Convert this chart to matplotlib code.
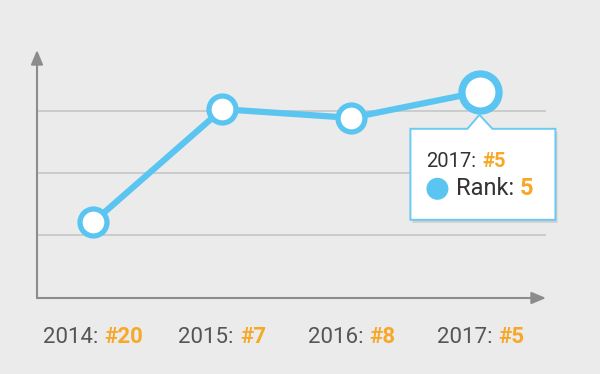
import matplotlib
matplotlib.use("Agg")
import matplotlib.pyplot as plt
from matplotlib.patches import Polygon, Circle
from matplotlib.offsetbox import TextArea, HPacker, AnnotationBbox

years = ["2014", "2015", "2016", "2017"]
ranks = [20, 7, 8, 5]
grid_ranks = [7.2, 14.35, 21.5]

BG = "#ebebeb"
BLUE = "#5bc5f2"
ORANGE = "#f6a828"
TXT = "#555555"
TIP_TXT = "#333333"
AXC = "#8c8c8c"
GRID = "#c6c6c6"

plt.rcParams["font.family"] = ["Roboto", "DejaVu Sans"]


def two_tone(axes, xy, a, b, size, coords, halign=0.5, color=TXT, sep=0.27):
    ta = TextArea(a, textprops=dict(color=color, fontsize=size))
    tb = TextArea(b, textprops=dict(color=ORANGE, fontsize=size, fontweight="bold"))
    box = HPacker(children=[ta, tb], sep=size * sep, pad=0, align="baseline")
    ab = AnnotationBbox(box, xy, xycoords=coords, box_alignment=(halign, 0.5),
                        frameon=False, pad=0, annotation_clip=False)
    axes.add_artist(ab)


fig = plt.figure(figsize=(6, 3.74), dpi=100, facecolor=BG)
ax = fig.add_axes([37 / 600, 76 / 374, 509 / 600, 248 / 374])
ax.set_facecolor(BG)
ax.set_xlim(-0.435, 3.508)
ax.set_ylim(28.73, 0.19)
for s in ax.spines.values():
    s.set_visible(False)
ax.set_xticks([]); ax.set_yticks([])

for g in grid_ranks:
    ax.axhline(g, color=GRID, lw=1.2, zorder=1)

arrow = dict(arrowstyle="-|>,head_length=0.86,head_width=0.36", color=AXC, lw=1.5,
             shrinkA=0, shrinkB=0, mutation_scale=10)
ax.annotate("", xy=(0, 1), xytext=(0, 0), xycoords="axes fraction",
            arrowprops=arrow, annotation_clip=False)
ax.annotate("", xy=(1, 0), xytext=(0, 0), xycoords="axes fraction",
            arrowprops=arrow, annotation_clip=False)

x = list(range(len(years)))
ax.plot(x, ranks, color=BLUE, lw=4.5, zorder=3, solid_capstyle="round")
ax.plot(x[:-1], ranks[:-1], "o", ms=19.4, mfc="white", mec=BLUE, mew=3.8,
        zorder=4, clip_on=False)
ax.plot(x[-1], ranks[-1], "o", ms=26.7, mfc="white", mec=BLUE, mew=5.2,
        zorder=4, clip_on=False)

# bottom labels
for i, (yr, r) in enumerate(zip(years, ranks)):
    two_tone(ax, (i, -0.157), f"{yr}:", f"#{r}", 16, ("data", "axes fraction"))

# tooltip in pixel space (y down), anchored to last point
ov = fig.add_axes([0, 0, 1, 1], zorder=5)
ov.set_xlim(0, 600); ov.set_ylim(374, 0)
ov.axis("off"); ov.patch.set_alpha(0)
px, py = ax.transData.transform((x[-1], ranks[-1]))
py = 374 - py
L, R, T, B = px - 70, px + 75, py + 37, py + 128
pts = [(L, T), (px - 13, T), (px - 1, py + 23), (px + 12, T), (R, T), (R, B), (L, B)]
ov.add_patch(Polygon([(a + 2, b + 3) for a, b in pts], closed=True, fc="#000000",
                     alpha=0.12, ec="none"))
ov.add_patch(Polygon(pts, closed=True, fc="white", ec="#6ccaf2", lw=1.4))
two_tone(ov, (L + 16, py + 69.5), f"{years[-1]}:", f"#{ranks[-1]}", 14.5, "data",
         halign=0, color=TIP_TXT, sep=0.28)
ov.add_patch(Circle((px - 43, py + 97), 11, fc=BLUE, ec="none"))
two_tone(ov, (px - 24, py + 97), "Rank:", f"{ranks[-1]}", 17, "data",
         halign=0, color=TIP_TXT, sep=0.24)

fig.savefig("out.png", dpi=100, facecolor=BG)
